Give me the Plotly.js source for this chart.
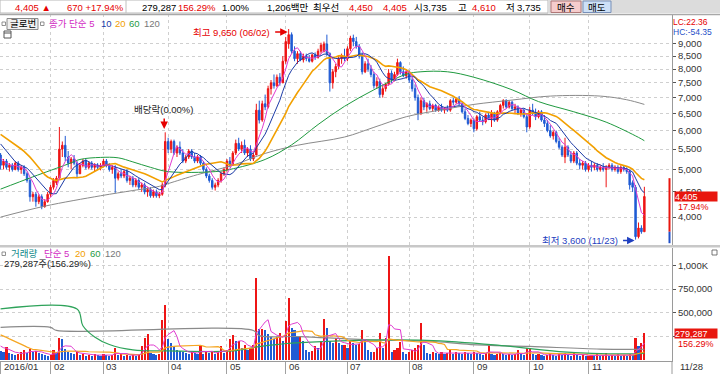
<!DOCTYPE html>
<html><head><meta charset="utf-8">
<script src="https://cdn.plot.ly/plotly-3.0.1.min.js"></script>
<style>html,body{margin:0;padding:0;background:#fff;}#chart{width:720px;height:374px;}</style>
</head><body><div id="chart"></div>
<script>
// ---------- DATA ----------
const monthStart = [0,17,35,57,77,97,118,139,161,180,200];
const monthLabels = ['2016/01','02','03','04','05','06','07','08','09','10','11'];
const lastDateLabel = '11/28';

const openP = [
5350,5100,5200,5050,5100,5000,5150,5000,5050,4900,4750,4400,4450,4300,4400,4200,4300,
4450,4600,4700,4800,5500,5600,5300,5150,5250,5150,4900,5100,5200,5050,5150,5050,5100,5050,
5100,5200,5100,5000,5050,4800,4900,4850,4950,4750,4800,4650,4750,4600,4650,4500,4550,4420,4500,4420,4450,4650,
5700,5500,5700,5400,5550,5400,5200,5300,5450,5300,5200,5300,5150,5000,4850,4750,4600,4650,4750,4900,
5000,5200,5100,5400,5650,5500,5600,5400,5500,5250,5350,6600,6300,6800,6700,7300,7500,7400,7700,7500,
8300,9000,9400,8700,8400,8600,8350,8500,8400,8300,8550,8450,8700,8700,9000,8600,7500,7900,8100,8400,8500,
8400,8800,9250,9100,8900,8500,7900,8200,8000,7800,7400,7550,7100,7300,7450,7850,7600,7800,8250,7900,7750,
7900,7600,7300,7000,6500,6900,6700,6800,6650,6750,6600,6700,6600,6650,6600,6900,6850,6950,6800,6550,6350,6200,
6300,6050,6400,6300,6250,6450,6350,6500,6300,6550,6750,6900,6700,6850,6650,6700,6500,6600,6400,
6100,6600,6500,6400,6550,6300,6200,6000,5850,5950,5700,5550,5300,5550,5350,5200,5400,5150,5100,5150,
5000,5100,5050,5100,5000,5050,5000,5050,5100,5000,5050,4950,5050,5000,4950,4700,4600,3650,3800,3735];
const highP = [
5400,5250,5250,5150,5150,5200,5200,5100,5100,4950,4800,4500,4500,4450,4450,4350,4500,
4650,4800,4850,6100,5700,5850,5450,5300,5350,5200,5150,5250,5250,5200,5200,5150,5150,5150,
5250,5250,5150,5100,5100,4950,5000,5000,5000,4850,4850,4800,4800,4700,4700,4600,4600,4550,4550,4500,4700,5950,
5800,5750,5750,5600,5700,5500,5350,5500,5500,5400,5350,5350,5200,5050,4900,4800,4700,4800,4950,5050,
5250,5300,5450,5750,5800,5700,5750,5550,5600,5400,6800,6900,6900,7100,7400,7600,7800,7800,7850,8500,
9300,9650,9500,8900,8700,8700,8600,8600,8550,8600,8650,8800,9050,9100,9400,8650,8000,8200,8500,8600,8800,
8900,9350,9400,9300,9000,8650,8300,8400,8150,7900,7700,7650,7400,7500,8000,7950,7900,8400,8300,8100,8000,
7950,7700,7450,7100,7000,7000,6850,6900,6800,6800,6750,6800,6700,6750,6950,7000,7000,7050,6850,6650,6450,6350,
6350,6450,6550,6400,6500,6550,6600,6550,6600,6800,6950,6950,6900,6900,6800,6750,6650,6650,6450,
6700,6800,6650,6600,6600,6450,6300,6150,6000,6000,5800,5600,5800,5600,5450,5450,5450,5250,5200,5200,
5150,5200,5150,5150,5100,5150,5100,5150,5150,5100,5100,5100,5100,5050,5000,4750,4650,3900,3850,4610];
const lowP = [
5000,5000,5000,4950,4950,4980,4950,4900,4850,4700,4300,4300,4200,4250,4150,4180,4280,
4400,4550,4650,4800,5300,5200,5050,5000,5100,4800,4900,5050,5000,5000,5000,4950,5000,4980,
5050,5050,4950,4900,4480,4750,4800,4800,4700,4650,4600,4600,4550,4500,4450,4400,4380,4380,4380,4370,4420,4600,
5400,5400,5350,5300,5350,5150,5150,5250,5250,5150,5150,5100,4950,4800,4700,4550,4530,4600,4700,4850,
4950,5050,5100,5350,5450,5400,5350,5300,5200,5200,5350,6200,6250,6600,6650,7100,7300,7350,7400,7500,
8200,8800,8600,8300,8200,8300,8250,8300,8250,8250,8350,8400,8600,8650,8500,7200,7300,7700,8000,8200,8300,
8300,8700,8900,8800,8400,7800,7850,7900,7700,7300,7300,7000,7000,7200,7400,7500,7550,7750,7800,7700,7650,
7500,7200,6900,6300,6450,6600,6550,6600,6550,6550,6550,6550,6500,6550,6550,6750,6800,6750,6500,6300,6150,6100,
5950,6000,6250,6150,6200,6300,6100,6250,6250,6500,6650,6650,6650,6600,6500,6450,6400,6350,5950,
6050,6450,6300,6350,6250,6100,5950,5800,5750,5650,5500,5300,5150,5300,5150,5150,5100,5000,5000,4950,
4950,4950,4980,4950,4950,4950,4600,5000,4950,4950,4900,4900,4950,4900,4550,4500,3600,3620,3700,3735];
const closeP = [
5100,5200,5050,5100,5000,5150,5000,5050,4900,4750,4400,4450,4300,4400,4200,4300,4450,
4600,4750,4800,5500,5600,5300,5150,5250,5150,4900,5100,5200,5050,5150,5050,5100,5050,5100,
5200,5100,5000,5050,4800,4900,4850,4950,4750,4800,4650,4750,4600,4650,4500,4550,4420,4500,4420,4450,4650,5700,
5500,5700,5400,5550,5400,5200,5300,5450,5300,5200,5300,5150,5000,4850,4750,4600,4650,4750,4900,5000,
5200,5100,5400,5650,5500,5600,5400,5500,5250,5350,6600,6300,6800,6700,7300,7500,7400,7700,7500,8300,
9100,9400,8700,8400,8600,8350,8500,8400,8300,8550,8450,8700,8950,9000,8600,7500,7900,8100,8400,8500,8400,
8800,9250,9100,8900,8500,7900,8200,8000,7800,7400,7550,7100,7300,7450,7850,7600,7800,8250,7900,7750,7900,
7600,7300,7000,6500,6900,6700,6800,6650,6750,6600,6700,6600,6650,6600,6900,6850,6950,6800,6550,6350,6200,6300,
6050,6400,6300,6250,6450,6350,6500,6300,6550,6750,6900,6700,6850,6650,6700,6500,6600,6400,6100,
6600,6500,6400,6550,6300,6200,6000,5850,5950,5700,5550,5350,5550,5350,5200,5400,5150,5100,5150,5000,
5100,5050,5100,5000,5050,5000,5050,5100,5000,5050,4950,5050,5000,4950,4650,4600,3650,3800,3735,4405];
const volumeK = [
90,80,130,70,60,50,60,80,100,70,110,80,90,70,60,50,40,
50,100,70,230,220,110,80,70,60,90,50,60,40,50,40,60,50,40,
60,50,40,50,120,50,60,40,50,40,50,40,60,140,230,275,70,60,50,60,417,585,
220,180,140,100,90,80,70,60,90,70,60,140,60,80,70,90,60,80,140,70,
100,220,262,200,200,120,155,100,120,155,865,330,330,320,275,240,220,240,280,200,
407,660,340,320,250,250,200,100,80,90,140,120,200,435,340,200,180,230,180,150,160,
120,200,180,160,170,320,220,100,80,80,120,285,120,230,1100,80,100,120,190,80,60,
80,100,120,160,393,155,70,60,80,70,60,80,60,70,100,60,80,70,60,80,70,60,
80,70,60,50,70,155,60,50,60,70,60,50,60,50,60,100,60,50,120,
120,60,50,60,50,40,50,60,50,40,60,50,70,50,40,80,50,40,50,40,
40,50,40,60,40,50,70,40,50,40,60,40,50,40,60,50,230,145,179,279.287];

// closes / volumes before the visible window (needed by the moving averages)
const priorClose = [6300,6250,6200,6150,6100,6200,6150,6100,6050,6000,6100,6050,6000,5950,5900,5500,5350,5250,5150];
const priorVolumeK = [300,450,380,320,420,350,300,400,380,360,350,130,140,120,140,170,160,150,150];

// long moving averages (trading-day index, value)
const ma60Day = [0,11,23,27,34,40,45,51,57,73,78,90,99,108,117,127,138,143,152,161,174,183,195,206,217,219];
const ma60Val = [4560,4830,5130,5240,5290,5280,5180,5050,4950,4950,5000,5240,5610,6170,6720,7260,7810,7900,7900,7700,7260,6870,6550,6240,5810,5720];
const ma120Day = [0,15,34,45,54,57,67,79,90,101,117,127,138,150,161,174,187,204,213,219];
const ma120Val = [4000,4210,4420,4530,4620,4680,4880,5100,5390,5600,5820,6090,6400,6610,6780,6920,7050,7050,6930,6780];
const volMa60Day = [0,26,28,32,37,45,57,79,88,99,122,145,168,190,213,219];
const volMa60K = [540,538,360,240,160,103,92,92,138,175,205,205,157,85,60,65];
const volMa120Day = [0,17,19,86,88,102,122,146,160,180,204,219];
const volMa120K = [342,342,310,310,255,245,215,195,160,140,112,110];

const priceTicks = [4000,4500,5000,5500,6000,6500,7000,7500,8000,8500,9000];
const volTicks = [250000,500000,750000,1000000];
const volTickText = ['','500,000','750,000','1,000K'];

const rangeMarker = [4800, 3735, 3540];
const exDivDay = 56;

// ---------- DERIVED ----------
const N = closeP.length;
const day = closeP.map((_, i) => i);
const volume = volumeK.map(v => Math.round(v * 1000));
function sma(prior, vals, n) {
  const all = prior.concat(vals);
  return vals.map((_, i) => {
    const end = prior.length + i, start = Math.max(0, end - n + 1);
    let s = 0; for (let j = start; j <= end; j++) s += all[j];
    return s / (end - start + 1);
  });
}
const ma5 = sma(priorClose, closeP, 5), ma10 = sma(priorClose, closeP, 10), ma20 = sma(priorClose, closeP, 20);
const vma5 = sma(priorVolumeK, volumeK, 5).map(v => v * 1000);
const vma20 = sma(priorVolumeK, volumeK, 20).map(v => v * 1000);
const UP = '#ee1515', DN = '#1f5bd4';
// volume bars: red when volume rose versus the previous day, blue when it fell
const prevVol = [priorVolumeK[priorVolumeK.length - 1]].concat(volumeK.slice(0, -1));
const volColors = volumeK.map((v, i) => v >= prevVol[i] ? UP : DN);

let hiIdx = 0, loIdx = 0;
highP.forEach((h, i) => { if (h > highP[hiIdx]) hiIdx = i; });
lowP.forEach((l, i) => { if (l < lowP[loIdx]) loIdx = i; });
const fmt = v => v.toLocaleString('en-US');

// ---------- GEOMETRY ----------
const W = 720, H = 374, ML = 0, MR = 48, MT = 14, MB = 13;
const PW = W - ML - MR, PH = H - MT - MB;
const px = p => (p - ML) / PW;
const py = p => (H - MB - p) / PH;
const F = "'Liberation Sans', 'Noto Sans CJK KR', sans-serif";

const traces = [
  {type:'candlestick', x:day, open:openP, high:highP, low:lowP, close:closeP, xaxis:'x', yaxis:'y',
   increasing:{line:{color:UP,width:1}, fillcolor:UP}, decreasing:{line:{color:DN,width:1}, fillcolor:DN},
   whiskerwidth:0, hoverinfo:'skip'},
  {type:'scatter', mode:'lines', x:ma120Day, y:ma120Val, line:{color:'#8a8a8a',width:1,shape:'spline'}, yaxis:'y', hoverinfo:'skip'},
  {type:'scatter', mode:'lines', x:ma60Day, y:ma60Val, line:{color:'#1f9a3f',width:1,shape:'spline'}, yaxis:'y', hoverinfo:'skip'},
  {type:'scatter', mode:'lines', x:day, y:ma20, line:{color:'#f2a000',width:1.6}, yaxis:'y', hoverinfo:'skip'},
  {type:'scatter', mode:'lines', x:day, y:ma10, line:{color:'#1b3aa6',width:1}, yaxis:'y', hoverinfo:'skip'},
  {type:'scatter', mode:'lines', x:day, y:ma5, line:{color:'#e03cd0',width:1}, yaxis:'y', hoverinfo:'skip'},
  {type:'bar', x:day, y:volume, marker:{color:volColors, line:{width:0}}, width:0.72, xaxis:'x', yaxis:'y2', hoverinfo:'skip'},
  {type:'scatter', mode:'lines', x:volMa120Day, y:volMa120K.map(v=>v*1000), line:{color:'#8a8a8a',width:1.2,shape:'spline'}, yaxis:'y2', hoverinfo:'skip'},
  {type:'scatter', mode:'lines', x:volMa60Day, y:volMa60K.map(v=>v*1000), line:{color:'#2ea35a',width:1.2,shape:'spline'}, yaxis:'y2', hoverinfo:'skip'},
  {type:'scatter', mode:'lines', x:day, y:vma20, line:{color:'#f5a623',width:1.2}, yaxis:'y2', hoverinfo:'skip'},
  {type:'scatter', mode:'lines', x:day, y:vma5, line:{color:'#e03cd0',width:1}, yaxis:'y2', hoverinfo:'skip'}
];

const ann = [];
function T(text, xp, yp, opt) {
  ann.push(Object.assign({text:text, xref:'paper', yref:'paper', x:px(xp), y:py(yp), showarrow:false,
    xanchor:'left', yanchor:'middle', font:{family:F, size:9.5, color:'#000'}, borderpad:0}, opt || {}));
}
const RED = '#e60000';
const fr = (c, s) => ({family:F, size:s || 9.5, color:c});
// header
T('4,405 ▲', 52, 7, {xanchor:'right', font:fr(RED)});
T('670 +17.94%', 125, 7, {xanchor:'right', font:fr(RED)});
T('279,287', 177, 7, {xanchor:'right'});
T('156.29%', 217, 7, {xanchor:'right', font:fr(RED)});
T('1.00%', 250, 7, {xanchor:'right'});
T('1,206백만', 310, 7, {xanchor:'right'});
T('최우선', 312, 7);
T('4,450', 374, 7, {xanchor:'right', font:fr(RED)});
T('4,405', 408, 7, {xanchor:'right', font:fr(RED)});
T('시', 413, 7); T('3,735', 448, 7, {xanchor:'right'});
T('고', 457, 7); T('4,610', 497, 7, {xanchor:'right', font:fr(RED)});
T('저', 505, 7); T('3,735', 542, 7, {xanchor:'right'});
T('매수', 566, 7, {xanchor:'center'});
T('매도', 597, 7, {xanchor:'center'});
// price legend
T('글로번', 22.5, 24, {xanchor:'center'});
T('종가 단순 5', 48, 24, {font:fr('#d22cc4')});
T('10', 100, 24, {font:fr('#1b3aa6')});
T('20', 114, 24, {font:fr('#f2a000')});
T('60', 128, 24, {font:fr('#1f9a3f')});
T('120', 143, 24, {font:fr('#777')});
T('LC:22.36', 672, 22, {font:fr(RED, 8.5)});
T('HC:-54.35', 672, 31.5, {font:fr('#1f4fc8', 8.5)});
// volume legend
T('거래량', 10, 254, {font:fr('#138a8a')});
T('단순 5', 43, 254, {font:fr('#d22cc4')});
T('20', 74, 254, {font:fr('#f2a000')});
T('60', 89, 254, {font:fr('#1f9a3f')});
T('120', 104, 254, {font:fr('#777')});
T('279,287주(156.29%)', 3, 263, {font:fr('#222')});
// last price / volume boxes
ann.push({text:fmt(closeP[N-1]), xref:'paper', yref:'y', x:px(674), y:Math.log10(closeP[N-1]), xanchor:'left', yanchor:'middle',
  showarrow:false, bgcolor:'#e8160e', width:42, height:9, align:'left', borderpad:0, font:fr('#fff', 9)});
ann.push({text:'17.94%', xref:'paper', yref:'y', x:px(676), y:Math.log10(closeP[N-1]), yshift:-10.5, xanchor:'left', yanchor:'middle',
  showarrow:false, font:fr(RED, 9)});
ann.push({text:fmt(volume[N-1]), xref:'paper', yref:'y2', x:px(674), y:volume[N-1], xanchor:'left', yanchor:'middle',
  showarrow:false, bgcolor:'#e8160e', width:42, height:9, align:'left', borderpad:0, font:fr('#fff', 9)});
ann.push({text:'156.29%', xref:'paper', yref:'y2', x:px(676), y:volume[N-1], yshift:-10.5, xanchor:'left', yanchor:'middle',
  showarrow:false, font:fr(RED, 9)});
// high / low / ex-dividend markers
ann.push({text:'최고 ' + fmt(highP[hiIdx]) + ' (06/02)', xref:'x', yref:'y', x:hiIdx, y:Math.log10(highP[hiIdx]), yshift:-3, xshift:-17,
  xanchor:'right', yanchor:'middle', showarrow:false, font:fr(RED)});
ann.push({text:'', xref:'x', yref:'y', x:hiIdx, y:Math.log10(highP[hiIdx]), yshift:-3, xshift:-1, showarrow:true, ax:-14, ay:0,
  arrowhead:2, arrowsize:1, arrowwidth:1.5, arrowcolor:RED});
ann.push({text:'최저 ' + fmt(lowP[loIdx]) + ' (11/23)', xref:'x', yref:'y', x:loIdx, y:Math.log10(lowP[loIdx]), yshift:-1, xshift:-16,
  xanchor:'right', yanchor:'middle', showarrow:false, font:fr('#1f3fc0')});
ann.push({text:'', xref:'x', yref:'y', x:loIdx, y:Math.log10(lowP[loIdx]), yshift:-1, xshift:-1, showarrow:true, ax:-13, ay:0,
  arrowhead:2, arrowsize:1, arrowwidth:1.5, arrowcolor:'#1f3fc0'});
ann.push({text:'배당락(0.00%)', xref:'x', yref:'paper', x:exDivDay, y:py(110), xshift:-2, xanchor:'center', yanchor:'middle',
  showarrow:false, font:fr('#222')});
ann.push({text:'', xref:'x', yref:'paper', x:exDivDay, y:py(129), xshift:-1, showarrow:true, ax:0, ay:-12,
  arrowhead:2, arrowsize:1, arrowwidth:1.5, arrowcolor:RED});
// month labels
monthStart.forEach((d, i) => ann.push({text:monthLabels[i], xref:'x', yref:'paper', x:d, y:py(366.5), xanchor:'left', xshift:1,
  yanchor:'middle', showarrow:false, font:fr('#333')}));
T(lastDateLabel, 679, 366.5, {font:fr('#333')});

const shp = [];
function R(x0, y0, x1, y1, fill, line, lw) {
  shp.push({type:'rect', xref:'paper', yref:'paper', x0:px(x0), x1:px(x1), y0:py(y1), y1:py(y0),
    fillcolor:fill, line:{color:line || fill, width:lw === undefined ? 1 : lw}, layer:'above'});
}
function Lp(x0, y0, x1, y1, color, w) {
  shp.push({type:'line', xref:'paper', yref:'paper', x0:px(x0), x1:px(x1), y0:py(y0), y1:py(y1), line:{color:color, width:w || 1}, layer:'above'});
}
// header
R(0, 0, 548, 13, '#ffffff', '#b8b8b8', 1);
R(548, 0, 720, 13, '#dcdcdc', '#dcdcdc', 0);
Lp(126, 0, 126, 13, '#c0c0c0');
R(551, 1, 581, 12.5, '#f5cccc', '#b07878', 1);
R(583, 1, 611, 12.5, '#cde0f6', '#7890b8', 1);
Lp(0, 14.5, 720, 14.5, '#a8a8a8', 1.5);
// legend icons
R(2, 22, 5.5, 25.5, '#ffffff', '#777', 0.8);
R(7, 18.5, 38, 29.5, '#f0f0f0', '#8a8a8a', 1);
R(40.5, 22, 44, 25.5, '#ffffff', '#777', 0.8);
R(4, 31, 11, 38, '#ffffff', '#555', 1);
Lp(4, 33, 11, 33, '#555', 1);
R(2, 252, 5.5, 255.5, '#ffffff', '#777', 0.8);
R(712, 250, 717, 255, '#ffffff', '#555', 0.8);
// pane separator
R(0, 245, 720, 247.5, '#c8c8c8', '#c8c8c8', 0);
// axis line continuation under plot
Lp(672, 361, 672, 374, '#9a9a9a', 1);
// range marker next to the price axis
shp.push({type:'line', xref:'paper', yref:'y', x0:px(669.5), x1:px(669.5), y0:rangeMarker[0], y1:rangeMarker[1], line:{color:'#e8160e', width:2}, layer:'above'});
shp.push({type:'line', xref:'paper', yref:'y', x0:px(669.5), x1:px(669.5), y0:rangeMarker[1], y1:rangeMarker[2], line:{color:'#1f4fc8', width:2}, layer:'above'});

const layout = {
  width:W, height:H, margin:{l:ML, r:MR, t:MT, b:MB, pad:0},
  paper_bgcolor:'#ffffff', plot_bgcolor:'#ffffff', showlegend:false, hovermode:false, dragmode:false,
  xaxis:{anchor:'y2', domain:[0,1], range:[-0.2, 228.4], tickvals:monthStart, showticklabels:false,
    ticks:'outside', ticklen:13, tickcolor:'#a0a0a0', tickwidth:1,
    showgrid:true, gridcolor:'#cfcfcf', griddash:'dot', gridwidth:1, zeroline:false,
    showline:true, linecolor:'#9a9a9a', linewidth:1, rangeslider:{visible:false}, fixedrange:true},
  yaxis:{domain:[py(246), 1], type:'log', range:[3.5433, 4.0151], side:'right', anchor:'x',
    tickvals:priceTicks, ticktext:priceTicks.map(fmt), ticks:'outside', ticklen:3, tickcolor:'#555',
    tickfont:fr('#333'), showgrid:true, gridcolor:'#cfcfcf', griddash:'dot',
    showline:true, linecolor:'#9a9a9a', zeroline:false, fixedrange:true},
  yaxis2:{domain:[0, py(248)], range:[-15000, 1187000], side:'right', anchor:'x',
    tickvals:volTicks, ticktext:volTickText, ticks:'outside', ticklen:3, tickcolor:'#555',
    tickfont:fr('#333'), showgrid:true, gridcolor:'#cfcfcf', griddash:'dot',
    showline:true, linecolor:'#9a9a9a', zeroline:false, fixedrange:true},
  bargap:0, annotations:ann, shapes:shp
};
Plotly.newPlot('chart', traces, layout, {staticPlot:true, displayModeBar:false});
</script></body></html>
